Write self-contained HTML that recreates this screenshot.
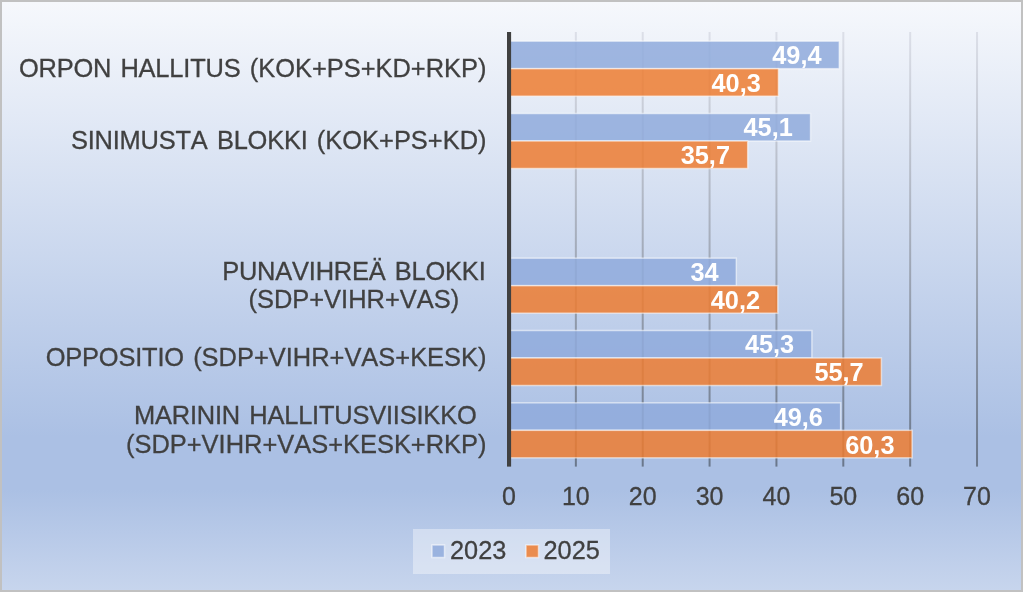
<!DOCTYPE html>
<html><head><meta charset="utf-8">
<style>
html,body{margin:0;padding:0;}
body{width:1023px;height:592px;background:#c1c1c1;position:relative;overflow:hidden;font-family:"Liberation Sans",sans-serif;color:#404040;font-kerning:none;-webkit-text-stroke:0.3px #404040;}
#w{position:absolute;left:0;top:0;width:1023px;height:592px;will-change:transform;}
#bg{position:absolute;left:2px;top:2px;width:1019px;height:588px;
background:linear-gradient(to bottom,#f6f8fc 0%,#abc0e4 74%,#abc0e4 83%,#c7d5ed 100%);}
svg{position:absolute;left:0;top:0;}
.r1{fill:#8faadc;fill-opacity:.85;stroke:#fff;stroke-opacity:.55;stroke-width:1.5;}
.r2{fill:#ed7d31;fill-opacity:.85;stroke:#fff;stroke-opacity:.55;stroke-width:1.5;}
.v{position:absolute;width:100px;text-align:right;height:30px;line-height:30px;font-weight:bold;color:#fff;-webkit-text-stroke:0;font-size:25.33px;white-space:nowrap;}
.c{position:absolute;right:536.5px;text-align:center;font-size:25.45px;line-height:28.3px;white-space:pre;word-spacing:2.2px;}
.n{letter-spacing:-0.2px;}
.t{position:absolute;top:482.1px;width:60px;margin-left:-30px;text-align:center;font-size:25px;line-height:29px;}
.lt{position:absolute;top:536.1px;font-size:25.33px;line-height:29px;}
</style></head><body>
<div id="bg"></div>
<div id="w">
<svg width="1023" height="592" viewBox="0 0 1023 592">
<defs><linearGradient id="gl" x1="0" y1="0" x2="0" y2="1"><stop offset="0" stop-color="#dcdfe8"/><stop offset="1" stop-color="#6a778b"/></linearGradient></defs>
<rect x="574.86" y="32" width="2" height="434.6" fill="url(#gl)"/>
<rect x="641.72" y="32" width="2" height="434.6" fill="url(#gl)"/>
<rect x="708.58" y="32" width="2" height="434.6" fill="url(#gl)"/>
<rect x="775.44" y="32" width="2" height="434.6" fill="url(#gl)"/>
<rect x="842.30" y="32" width="2" height="434.6" fill="url(#gl)"/>
<rect x="909.16" y="32" width="2" height="434.6" fill="url(#gl)"/>
<rect x="976.02" y="32" width="2" height="434.6" fill="url(#gl)"/>
<rect class="r1" x="509.0" y="41.17" width="330.29" height="27.5"/>
<rect class="r2" x="509.0" y="68.67" width="269.45" height="27.5"/>
<rect class="r1" x="509.0" y="113.50" width="301.54" height="27.5"/>
<rect class="r2" x="509.0" y="141.00" width="238.69" height="27.5"/>
<rect class="r1" x="509.0" y="258.17" width="227.32" height="27.5"/>
<rect class="r2" x="509.0" y="285.67" width="268.78" height="27.5"/>
<rect class="r1" x="509.0" y="330.50" width="302.88" height="27.5"/>
<rect class="r2" x="509.0" y="358.00" width="372.41" height="27.5"/>
<rect class="r1" x="509.0" y="402.83" width="331.63" height="27.5"/>
<rect class="r2" x="509.0" y="430.33" width="403.17" height="27.5"/>
<rect x="507" y="32" width="4.1" height="434.6" fill="#404040"/>
<rect x="413" y="529" width="197" height="45" fill="#fff" fill-opacity=".38"/>
<rect class="r1" x="432" y="545" width="12.5" height="12.5"/>
<rect class="r2" x="526" y="545" width="12.5" height="12.5"/>
</svg>
<div class="v" style="left:721.59px;top:39.92px">49,4</div>
<div class="v" style="left:660.75px;top:67.92px">40,3</div>
<div class="v" style="left:692.84px;top:112.25px">45,1</div>
<div class="v" style="left:629.99px;top:140.25px">35,7</div>
<div class="v" style="left:618.62px;top:256.92px">34</div>
<div class="v" style="left:660.08px;top:284.92px">40,2</div>
<div class="v" style="left:694.18px;top:329.25px">45,3</div>
<div class="v" style="left:763.71px;top:357.25px">55,7</div>
<div class="v" style="left:722.93px;top:401.58px">49,6</div>
<div class="v" style="left:794.47px;top:429.58px">60,3</div>
<div class="c" style="top:53.72px"><span class="n">ORPON</span> <span class="n">HALLITUS</span> (KOK+PS+KD+RKP)</div>
<div class="c" style="top:126.05px"><span class="n">SINIMUSTA</span> <span class="n">BLOKKI</span> (KOK+PS+KD)</div>
<div class="c" style="top:256.57px;right:537.5px"><span class="n">PUNAVIHREÄ</span> <span class="n">BLOKKI</span>
(SDP+VIHR+VAS)</div>
<div class="c" style="top:343.05px"><span class="n">OPPOSITIO</span> (SDP+VIHR+VAS+KESK)</div>
<div class="c" style="top:401.23px"><span style="position:relative;left:-1px"><span class="n">MARININ</span> <span class="n">HALLITUSVIISIKKO</span></span>
(SDP+VIHR+VAS+KESK+RKP)</div>
<div class="t" style="left:509.00px">0</div>
<div class="t" style="left:575.86px">10</div>
<div class="t" style="left:642.72px">20</div>
<div class="t" style="left:709.58px">30</div>
<div class="t" style="left:776.44px">40</div>
<div class="t" style="left:843.30px">50</div>
<div class="t" style="left:910.16px">60</div>
<div class="t" style="left:977.02px">70</div>
<div class="lt" style="left:450px">2023</div>
<div class="lt" style="left:543.5px">2025</div>
</div>
</body></html>
